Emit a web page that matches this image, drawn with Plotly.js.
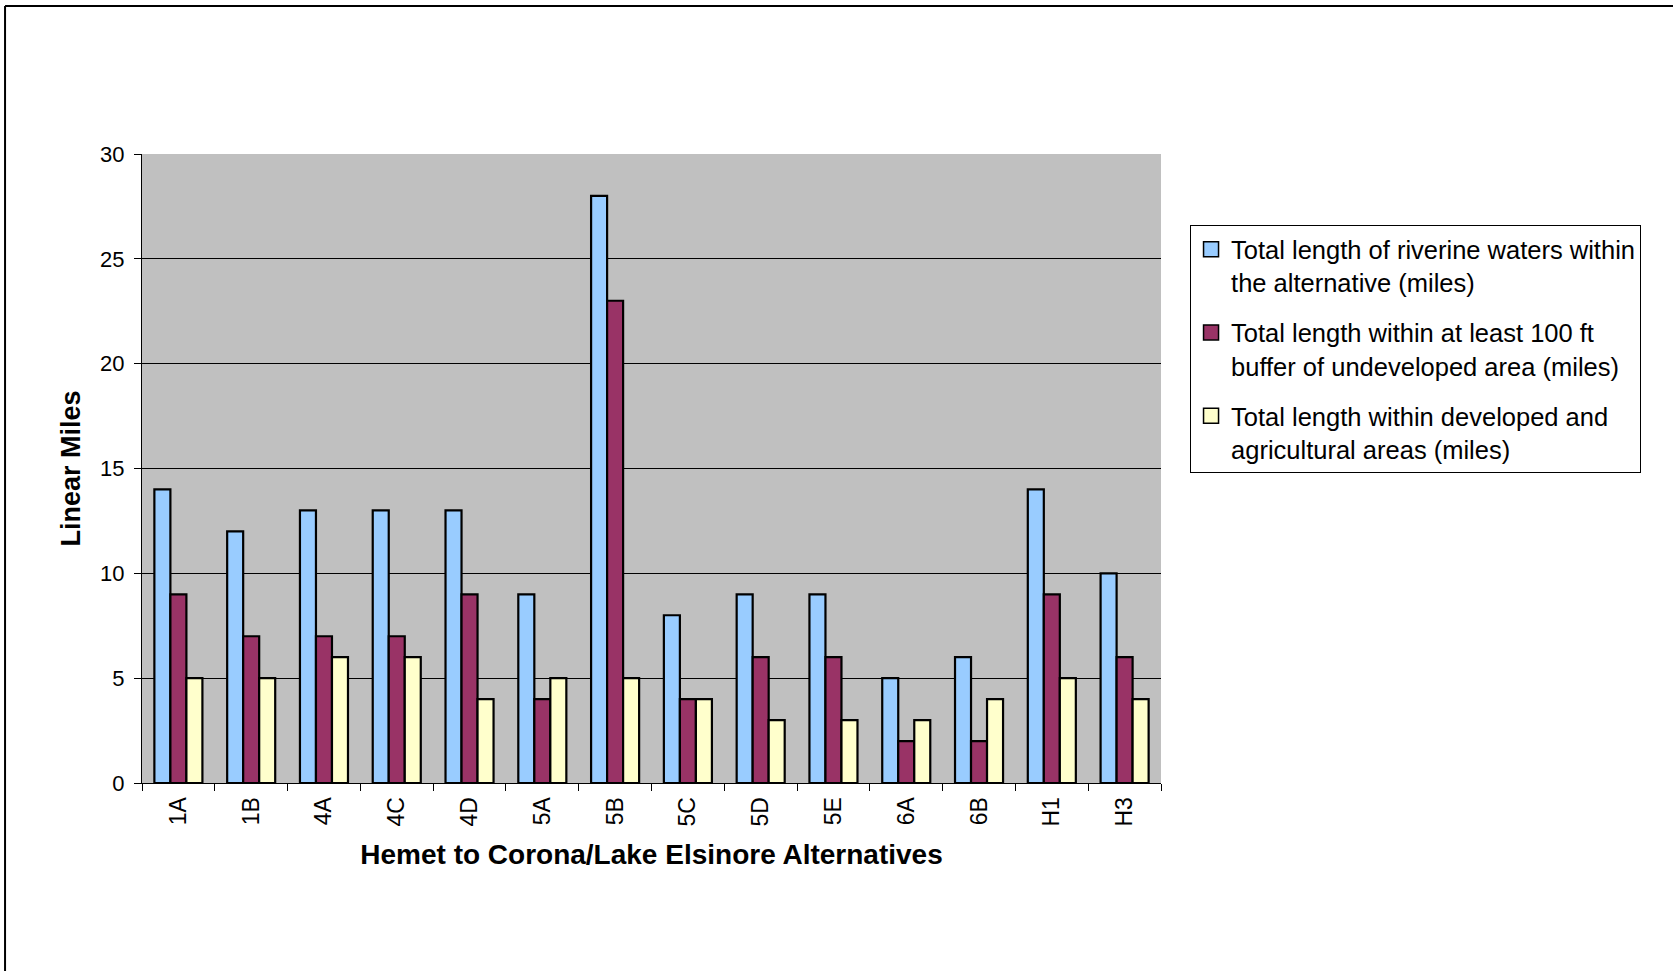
<!DOCTYPE html>
<html>
<head>
<meta charset="utf-8">
<script src="https://cdn.plot.ly/plotly-3.0.1.min.js"></script>
<style>
html,body{margin:0;padding:0;background:#fff;}
#chart{width:1673px;height:971px;}
</style>
</head>
<body>
<div id="chart"></div>
<script>
const categories = ["1A","1B","4A","4C","4D","5A","5B","5C","5D","5E","6A","6B","H1","H3"];
const riverineTotal = [14,12,13,13,13,9,28,8,9,9,5,6,14,10];
const bufferUndeveloped = [9,7,7,7,9,4,23,4,6,6,2,2,9,6];
const developedAgricultural = [5,5,6,6,4,5,5,4,3,3,3,4,5,4];
const seriesNames = [
  "Total length of riverine waters within<br>the alternative (miles)",
  "Total length within at least 100 ft<br>buffer of undeveloped area (miles)",
  "Total length within developed and<br>agricultural areas (miles)"
];
const yTicks = [0,5,10,15,20,25];
const yTopTick = [30];

const FONT = "Liberation Sans, Arial, sans-serif";
const colors = ["#99CCFF","#993366","#FFFFCC"];
const seriesValues = [riverineTotal, bufferUndeveloped, developedAgricultural];

const traces = seriesValues.map((vals, i) => ({
  type: "bar",
  x: categories,
  y: vals,
  name: seriesNames[i],
  legendgroup: "g" + i,
  showlegend: false,
  marker: {color: colors[i], line: {color: "#000", width: 2.2}},
  hoverinfo: "x+y"
}));
// legend keys (larger square swatches like the original)
seriesNames.forEach((nm, i) => {
  traces.push({
    type: "scatter", mode: "markers", x: [null], y: [null],
    name: nm, legendgroup: "g" + i, showlegend: true, hoverinfo: "skip",
    marker: {symbol: "square", size: 15, color: colors[i], line: {color: "#000", width: 1.5}}
  });
});
// empty helper trace so the overlaying axis carrying the top "30" tick is drawn
traces.push({type: "scatter", x: [], y: [], yaxis: "y2", showlegend: false, hoverinfo: "skip"});

const layout = {
  width: 1673,
  height: 971,
  margin: {l: 142, r: 512, t: 154, b: 188, pad: 0},
  paper_bgcolor: "#ffffff",
  plot_bgcolor: "#C0C0C0",
  font: {family: FONT, color: "#000"},
  barmode: "group",
  bargap: 0.34,
  bargroupgap: 0,
  showlegend: true,
  legend: {
    x: 1.0285, y: 0.887, xanchor: "left", yanchor: "top",
    bgcolor: "#fff", bordercolor: "#000", borderwidth: 1,
    font: {family: FONT, size: 25.5, color: "#000"},
    valign: "top",
    traceorder: "grouped",
    tracegroupgap: 14
  },
  xaxis: {
    type: "category",
    tickson: "boundaries",
    ticks: "outside", ticklen: 7, tickcolor: "#000", tickwidth: 1,
    tickangle: -90,
    tickfont: {family: FONT, size: 23, color: "#000"},
    ticklabelstandoff: 4,
    showline: true, linecolor: "#000", linewidth: 1,
    showgrid: false, zeroline: false,
    title: {text: "Hemet to Corona/Lake Elsinore Alternatives", font: {family: FONT, size: 28, color: "#000", weight: "bold"}, standoff: 18}
  },
  yaxis: {
    range: [0, 30],
    tickvals: yTicks,
    ticks: "outside", ticklen: 7, tickcolor: "#000", tickwidth: 1,
    tickfont: {family: FONT, size: 22, color: "#000"},
    ticklabelstandoff: 5,
    showline: true, linecolor: "#000", linewidth: 1,
    showgrid: true, gridcolor: "#000", gridwidth: 1,
    zeroline: false,
    title: {text: "Linear Miles", font: {family: FONT, size: 27, color: "#000", weight: "bold"}, standoff: 11}
  },
  yaxis2: {
    overlaying: "y", side: "left", anchor: "x",
    range: [0, 30],
    tickvals: yTopTick,
    ticks: "outside", ticklen: 7, tickcolor: "#000", tickwidth: 1,
    tickfont: {family: FONT, size: 22, color: "#000"},
    ticklabelstandoff: 5,
    showline: false,
    showgrid: true, gridcolor: "#D6D6D6", gridwidth: 1,
    zeroline: false
  },
  shapes: [
    {type: "line", xref: "paper", yref: "paper", x0: -0.1344, x1: 1.51, y0: 1.2353, y1: 1.2353, line: {color: "#000", width: 2}},
    {type: "line", xref: "paper", yref: "paper", x0: -0.1344, x1: -0.1344, y0: 1.2353, y1: -0.31, line: {color: "#000", width: 2}}
  ]
};

Plotly.newPlot("chart", traces, layout, {displayModeBar: false, responsive: false});
</script>
</body>
</html>
